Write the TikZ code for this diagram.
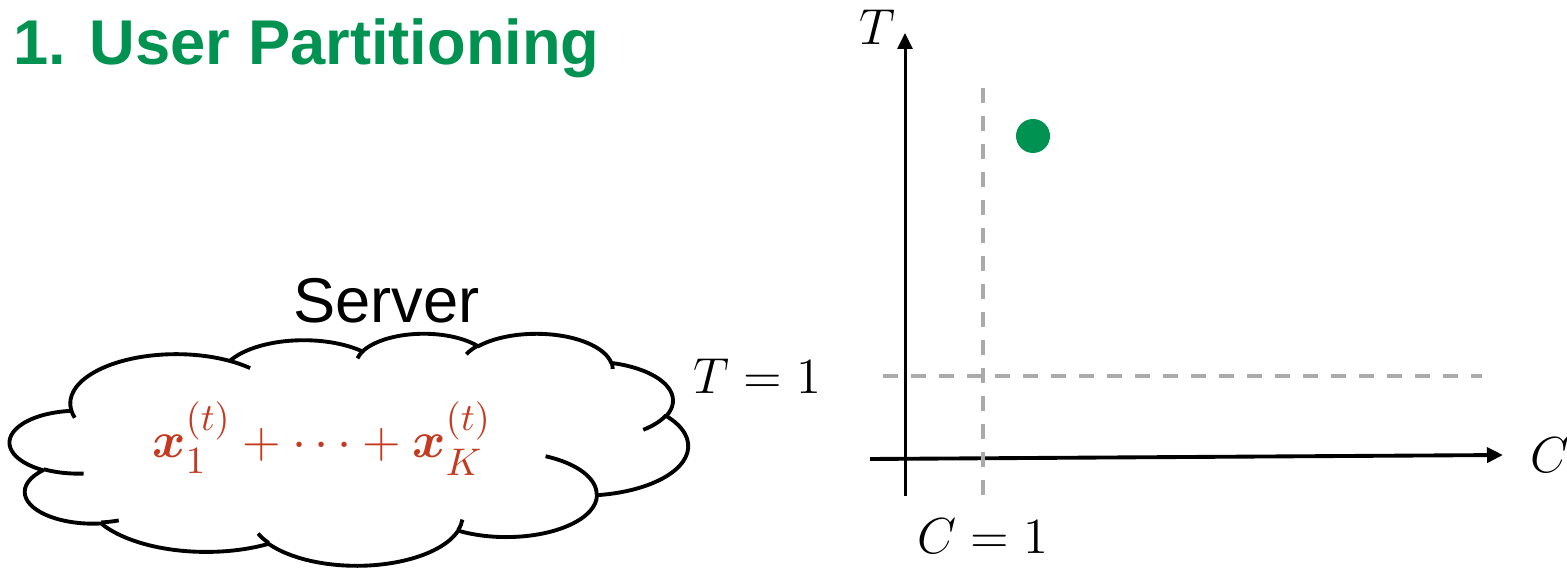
\documentclass[tikz,border=0pt]{standalone}
\usepackage{amsmath,amssymb}
\usepackage{bm}
\usepackage[no-math]{fontspec}
\newfontfamily\arialfont{Liberation Sans}
\usepackage{xcolor}
\usetikzlibrary{arrows.meta,positioning}

\definecolor{titlegreen}{RGB}{0,146,80}
\definecolor{sumred}{RGB}{196,58,32}
\definecolor{guidegray}{RGB}{170,170,170}

\begin{document}
\begin{tikzpicture}[
  % --- global style ---
  >={Triangle[length=0.16cm,width=0.15cm]},
  declare function={pang(\pw,\ph,\pa)=(\pa)+Mod(atan2((\pw)*sin(\pa),(\ph)*cos(\pa))-(\pa)+540,360)-180;},
  puff/.style n args={4}{insert path={
    arc[x radius=#1, y radius=#2,
        start angle={pang(#1,#2,#3)}, end angle={pang(#1,#2,#3+#4)}]}},
  cloudline/.style={draw=black, line width=1.1pt, line join=round},
  axis/.style={->, line width=0.85pt},
  guide/.style={draw=guidegray, line width=1.1pt, dash pattern=on 0.15cm off 0.13cm},
  mathlbl/.style={font=\fontsize{13.5}{16}\selectfont, inner sep=0pt},
  ptdot/.style={circle, fill=titlegreen, minimum size=0.34cm, inner sep=0pt},
]
\useasboundingbox (0,0) rectangle (15.67,-5.72);

% ====== Title ======
\node[font=\arialfont\bfseries\fontsize{18}{21}\selectfont, text=titlegreen,
      anchor=base west, inner sep=0pt] (title) at (0.13,-0.65) {1. User Partitioning};

% ====== Server cloud ======
\begin{scope}[shift={(0.10,-3.33)}, xscale=6.78/43.2, yscale=-2.32/43.2]
  \draw[cloudline] (3.9,14.37)
    [puff={6.753}{9.190}{-190.4875}{123.7805}]
    [puff={5.333}{7.267}{-144.1024}{89.9452}]
    [puff={4.365}{5.945}{-145.8079}{99.7230}]
    [puff={4.857}{6.595}{-130.9861}{117.2417}]
    [puff={5.333}{7.273}{-78.7089}{109.0269}]
    [puff={6.775}{9.220}{-46.2673}{130.2690}]
    [puff={5.785}{7.867}{0.6250}{114.0333}]
    [puff={6.752}{9.215}{22.4516}{115.1726}]
    [puff={7.720}{10.543}{66.2426}{75.7110}]
    [puff={4.360}{5.918}{-274.9421}{146.7356}]
    [puff={4.345}{5.945}{-246.8285}{152.5189}] -- cycle;
  % inner folds
  \draw[cloudline]
    (4.693,26.177) [puff={4.345}{5.945}{86.742}{26.4295}]
    (6.928,34.899) [puff={4.360}{5.918}{73.6105}{11.4475}]
    (16.478,39.090) [puff={6.752}{9.215}{137.6242}{14.0811}]
    (28.827,34.751) [puff={6.752}{9.215}{6.4533}{15.9984}]
    (34.129,22.954) [puff={5.785}{7.867}{-70.2924}{70.9174}]
    (41.798,15.354) [puff={5.333}{7.273}{30.3180}{27.7515}]
    (38.324,5.426) [puff={4.857}{6.595}{-13.7443}{14.8589}]
    (29.078,3.952) [puff={4.857}{6.595}{-149.1815}{18.1954}]
    (22.141,4.720) [puff={4.365}{5.945}{-163.4943}{17.6864}]
    (14.000,5.192) [puff={6.753}{9.190}{-66.7070}{12.3194}]
    (4.127,15.789) [puff={6.753}{9.190}{157.6544}{11.8582}];
\end{scope}

\node[font=\arialfont\fontsize{18}{21}\selectfont, anchor=base, inner sep=0pt]
  (server) at (3.865,-3.23) {Server};
\node[text=sumred, font=\fontsize{15}{18}\selectfont, anchor=base, inner sep=0pt]
  (sum) at (3.22,-4.58) {$\bm{x}_1^{(t)}+\cdots+\bm{x}_K^{(t)}$};

% ====== Axes ======
\coordinate (tbot) at (9.05,-4.96);
\coordinate (ttop) at (9.05,-0.33);
\coordinate (cleft) at (8.70,-4.59);
\coordinate (cright) at (15.03,-4.55);
\draw[axis] (tbot) -- (ttop);
\draw[axis, line width=1.1pt] (cleft) -- (cright);
\node[mathlbl] (tlbl) at (8.77,-0.27) {$T$};
\node[mathlbl] (clbl) at (15.50,-4.55) {$C$};

% --- threshold guides ---
\coordinate (vtop) at (9.83,-0.88);
\coordinate (vbot) at (9.83,-4.96);
\coordinate (hleft) at (8.83,-3.76);
\coordinate (hright) at (14.82,-3.76);
\draw[guide] (vtop) -- (vbot);
\draw[guide] (hleft) -- (hright);
\node[mathlbl, below=0.22cm of vbot] (cone) {$C=1$};
\node[mathlbl, left=0.61cm of hleft] (tone) {$T=1$};

% --- user point ---
\node[ptdot] (pt) at (10.33,-1.36) {};

\end{tikzpicture}
\end{document}
